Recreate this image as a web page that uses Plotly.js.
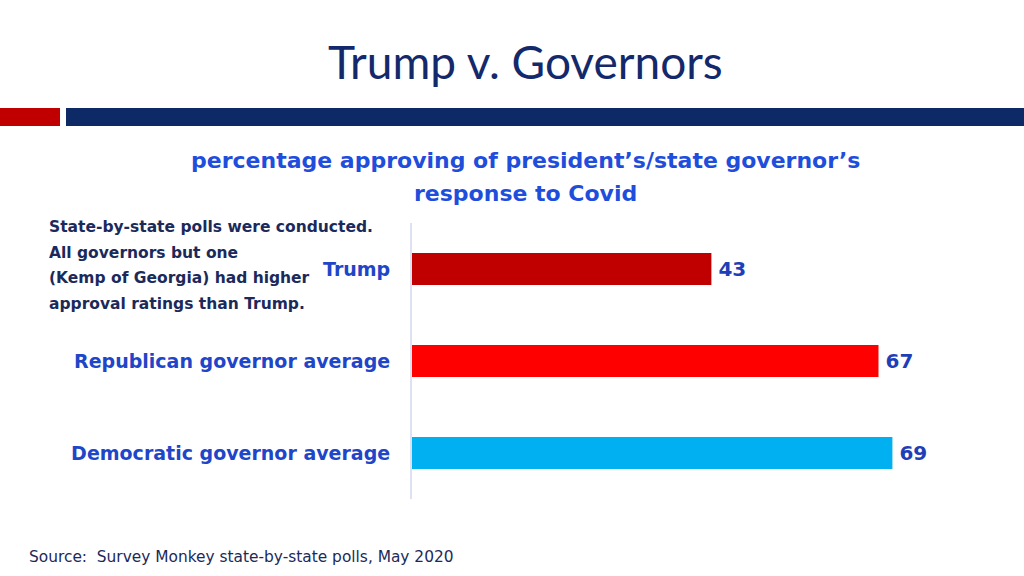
<!DOCTYPE html>
<html>
<head>
<meta charset="utf-8">
<script src="https://cdn.plot.ly/plotly-3.0.1.min.js"></script>
<style>html,body{margin:0;padding:0;background:#fff;}#chart{width:1024px;height:576px;}</style>
</head>
<body>
<div id="chart"></div>
<script>
const categories = ["Trump", "Republican governor average", "Democratic governor average"];
const approval = [43, 67, 69];
const barColors = ["#C00000", "#FF0000", "#00B0F0"];
const valueLabels = ["43", "67", "69"];
const subtitleLines = ["percentage approving of president’s/state governor’s", "response to Covid"];
const noteLines = ["State-by-state polls were conducted.", "All governors but one", "(Kemp of Georgia) had higher", "approval ratings than Trump."];

const W = 1024, H = 576;
const px = x => x / W;
const py = y => 1 - y / H;
const FONT = "'DejaVu Sans', sans-serif";

const trace = {
  type: "bar",
  orientation: "h",
  y: categories,
  x: approval,
  marker: {color: barColors},
  text: valueLabels,
  texttemplate: "\u2009%{text}",
  textposition: "outside",
  cliponaxis: false,
  textfont: {family: FONT, size: 20, color: "#1F3FB8", weight: 700},
  hoverinfo: "none"
};

const annotations = [
  {xref: "paper", yref: "paper", x: px(525), y: py(62), xanchor: "center", yanchor: "middle", showarrow: false,
   text: "Trump v. Governors", font: {family: "Lato, sans-serif", size: 46, color: "#13296B"}},
  {xref: "paper", yref: "paper", x: px(28), y: py(557), xanchor: "left", yanchor: "middle", showarrow: false, borderpad: 0,
   text: "Source:  Survey Monkey state-by-state polls, May 2020",
   font: {family: FONT, size: 15.4, color: "#1B2A5A"}}
];
const subY = [160, 193];
subtitleLines.forEach((t, i) => annotations.push({
  xref: "paper", yref: "paper", x: px(525), y: py(subY[i]), xanchor: "center", yanchor: "middle", showarrow: false,
  text: t, font: {family: FONT, size: 22, color: "#1F4EDC", weight: 700}
}));
const noteY = [227, 253, 278, 304];
noteLines.forEach((t, i) => annotations.push({
  xref: "paper", yref: "paper", x: px(48), y: py(noteY[i]), xanchor: "left", yanchor: "middle", showarrow: false, borderpad: 0,
  text: t, font: {family: FONT, size: 15.5, color: "#1B2A5A", weight: 700}
}));

const layout = {
  width: W, height: H,
  margin: {l: 0, r: 0, t: 0, b: 0},
  paper_bgcolor: "#ffffff",
  plot_bgcolor: "#ffffff",
  showlegend: false,
  bargap: 0.652,
  xaxis: {
    domain: [px(412), px(969)],
    range: [0, 80],
    visible: false,
    fixedrange: true
  },
  yaxis: {
    domain: [py(499), py(223)],
    autorange: "reversed",
    showline: true,
    linecolor: "#DDE1F2",
    linewidth: 2,
    showgrid: false,
    zeroline: false,
    ticks: "",
    ticklabelstandoff: 16,
    tickfont: {family: FONT, size: 19, color: "#1F45C8", weight: 700},
    fixedrange: true
  },
  shapes: [
    {type: "rect", xref: "paper", yref: "paper", x0: px(0), x1: px(60), y0: py(126), y1: py(108), fillcolor: "#C00000", line: {width: 0}},
    {type: "rect", xref: "paper", yref: "paper", x0: px(66), x1: px(1024), y0: py(126), y1: py(108), fillcolor: "#0E2A66", line: {width: 0}}
  ],
  annotations: annotations
};

Plotly.newPlot("chart", [trace], layout, {displayModeBar: false, staticPlot: true});
</script>
</body>
</html>
